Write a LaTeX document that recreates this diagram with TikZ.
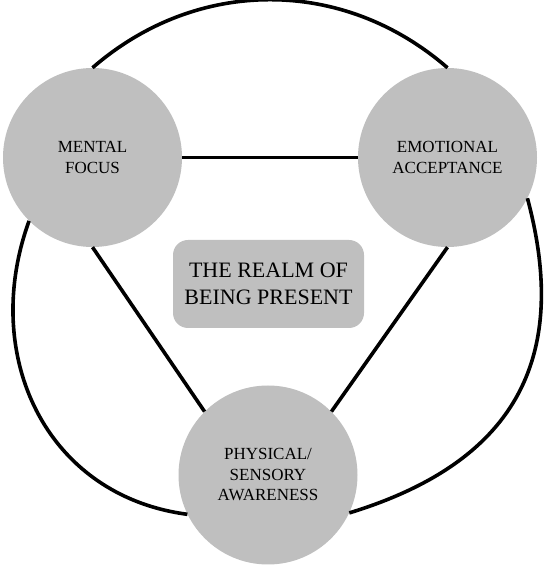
\documentclass[tikz,border=0pt]{standalone}
\usepackage{fontspec}
\setmainfont{Liberation Serif}
\begin{document}
\begin{tikzpicture}[x=1pt, y=1pt,
  facet/.style={circle, fill=black!25, minimum size=179pt, inner sep=0pt, align=center, font=\fontsize{17}{20.5}\selectfont},
  link/.style={line width=3.6pt}]
\useasboundingbox (0,0) rectangle (551,571);

\node[facet] (mental) at (92.5,413.5) {MENTAL\\FOCUS};
\node[facet] (emotional) at (447.5,413.5) {EMOTIONAL\\ACCEPTANCE};
\node[facet] (physical) at (268,96) {PHYSICAL/\\SENSORY\\AWARENESS};

\node[fill=black!25, rounded corners=15pt, minimum width=191pt, minimum height=88pt, align=center, font=\fontsize{22}{27.5}\selectfont] (realm) at (268.5,287) {THE REALM OF\\BEING PRESENT};

% the triangle
\draw[link] (mental.east) -- (emotional.west);
\draw[link] (mental.south) -- (physical.135);
\draw[link] (emotional.south) -- (physical.45);

% the outer ring
\draw[link] (mental.north) to[out=41, in=139] (emotional.north);
\draw[link] (mental.225) to[out=250, in=172.5, looseness=1.1] (physical.206);
\draw[link] (emotional.333) to[out=-75, in=17, looseness=1.2] (physical.335);
\end{tikzpicture}
\end{document}
